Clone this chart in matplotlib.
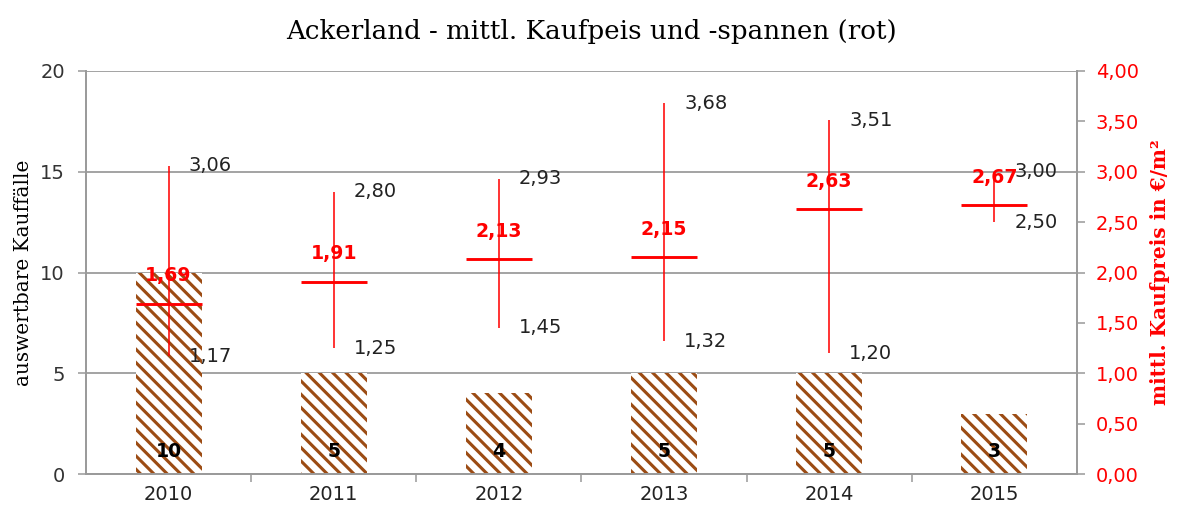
import numpy as np
import matplotlib.pyplot as plt
from matplotlib.ticker import FuncFormatter, FixedLocator

# data
years = ["2010", "2011", "2012", "2013", "2014", "2015"]
counts = [10, 5, 4, 5, 5, 3]
price_mean = [1.69, 1.91, 2.13, 2.15, 2.63, 2.67]
price_min = [1.17, 1.25, 1.45, 1.32, 1.20, 2.50]
price_max = [3.06, 2.80, 2.93, 3.68, 3.51, 3.00]

grey = "#9a9a9a"
brown = "#9c4c14"
red = "#ff0000"
plt.rcParams["hatch.linewidth"] = 2.8
plt.rcParams["hatch.color"] = brown


def comma(v, pos=None, nd=2):
    return f"{v:.{nd}f}".replace(".", ",")


# dpi 80 so the hatch tile gives the same stripe spacing as the original
fig = plt.figure(figsize=(14.8, 6.4125), dpi=80)
ax = fig.add_axes([0.0726, 0.076, 0.837, 0.7856])
ax2 = ax.twinx()

x = np.arange(len(years))
w = 0.4

ax.bar(x, counts, width=w, color="white", edgecolor=brown, hatch="\\\\", linewidth=0, zorder=2)
ax.set_ylim(0, 20)
ax.set_xlim(-0.5, len(years) - 0.5)
ax.set_yticks([0, 5, 10, 15, 20])
ax.yaxis.grid(True, color=grey, lw=1.6, zorder=0)
ax.set_axisbelow(True)

for xi, c in zip(x, counts):
    ax.annotate(str(c), (xi, 0), xytext=(0, 20), textcoords="offset points",
                ha="center", va="center", fontsize=17, fontweight="bold", color="black", zorder=5)

# price ranges (red)
ax2.vlines(x, price_min, price_max, color=red, lw=1.4, zorder=4)
ax2.hlines(price_mean, x - w / 2, x + w / 2, color=red, lw=2.6, zorder=4)
ax2.set_ylim(0, 4)
ax2.set_yticks(np.arange(0, 4.01, 0.5))
ax2.yaxis.set_major_formatter(FuncFormatter(comma))

for xi, m, lo, hi in zip(x, price_mean, price_min, price_max):
    ax2.annotate(comma(m), (xi, m), xytext=(0, 25), textcoords="offset points",
                 ha="center", va="center", fontsize=17, fontweight="bold", color=red, zorder=5)
    ax2.annotate(comma(hi), (xi, hi), xytext=(18, 0), textcoords="offset points",
                 ha="left", va="center", fontsize=17.5, color="#222222", zorder=5)
    ax2.annotate(comma(lo), (xi, lo), xytext=(18, 0), textcoords="offset points",
                 ha="left", va="center", fontsize=17.5, color="#222222", zorder=5)

# axes styling
for a in (ax, ax2):
    a.spines["top"].set_visible(False)
    for s in ("left", "right", "bottom"):
        a.spines[s].set_color(grey)
        a.spines[s].set_linewidth(1.6)

ax.set_xticks(x)
ax.set_xticklabels(years)
ax.xaxis.set_minor_locator(FixedLocator(np.arange(0.5, len(years) - 1, 1)))
ax.tick_params(axis="x", which="major", length=0, pad=10, labelsize=17.5, labelcolor="#222222")
ax.tick_params(axis="x", which="minor", length=7, width=1.4, color=grey)
ax.tick_params(axis="y", length=7, width=1.4, color=grey, labelsize=17.5, labelcolor="#333333", pad=12)
ax2.tick_params(axis="y", length=7, width=1.4, color=grey, labelsize=17.5, labelcolor=red, pad=10)

ax.set_ylabel("auswertbare Kauffälle", family="DejaVu Serif", fontsize=18, labelpad=6)
ax2.set_ylabel("mittl. Kaufpreis in €/m²", family="DejaVu Serif", fontsize=18,
               fontweight="bold", color=red, labelpad=10)

fig.suptitle("Ackerland - mittl. Kaufpeis und -spannen (rot)", family="DejaVu Serif",
             fontsize=23.5, y=0.962)

fig.savefig("out.png", dpi=80, facecolor="white")
